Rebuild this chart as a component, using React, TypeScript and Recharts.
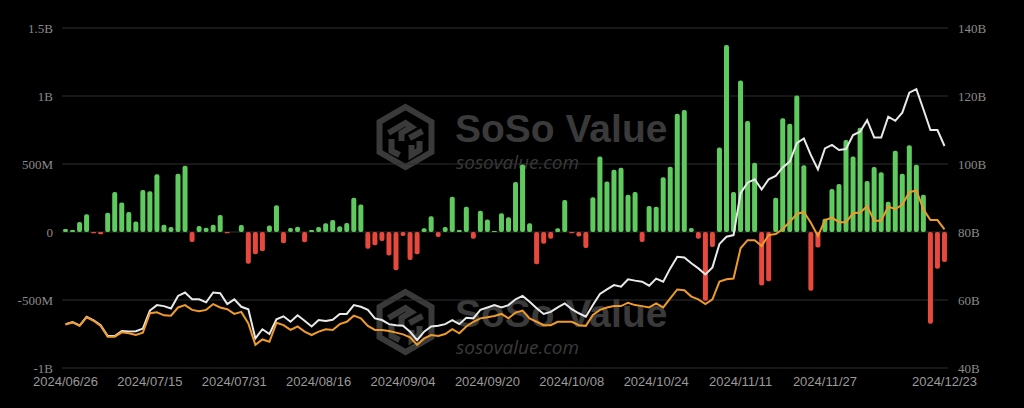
import { ComposedChart, Bar, Line, XAxis, YAxis, CartesianGrid, Cell } from "recharts";

const DATES = [
  "2024/06/26", "2024/06/27", "2024/06/28",
  "2024/07/01", "2024/07/02", "2024/07/03", "2024/07/05", "2024/07/08", "2024/07/09", "2024/07/10", "2024/07/11",
  "2024/07/12", "2024/07/15", "2024/07/16", "2024/07/17", "2024/07/18", "2024/07/19", "2024/07/22", "2024/07/23",
  "2024/07/24", "2024/07/25", "2024/07/26", "2024/07/29", "2024/07/30", "2024/07/31",
  "2024/08/01", "2024/08/02", "2024/08/05", "2024/08/06", "2024/08/07", "2024/08/08", "2024/08/09", "2024/08/12",
  "2024/08/13", "2024/08/14", "2024/08/15", "2024/08/16", "2024/08/19", "2024/08/20", "2024/08/21", "2024/08/22",
  "2024/08/23", "2024/08/26", "2024/08/27", "2024/08/28", "2024/08/29", "2024/08/30",
  "2024/09/03", "2024/09/04", "2024/09/05", "2024/09/06", "2024/09/09", "2024/09/10", "2024/09/11", "2024/09/12",
  "2024/09/13", "2024/09/16", "2024/09/17", "2024/09/18", "2024/09/19", "2024/09/20", "2024/09/23", "2024/09/24",
  "2024/09/25", "2024/09/26", "2024/09/27", "2024/09/30",
  "2024/10/01", "2024/10/02", "2024/10/03", "2024/10/04", "2024/10/07", "2024/10/08", "2024/10/09", "2024/10/10",
  "2024/10/11", "2024/10/14", "2024/10/15", "2024/10/16", "2024/10/17", "2024/10/18", "2024/10/21", "2024/10/22",
  "2024/10/23", "2024/10/24", "2024/10/25", "2024/10/28", "2024/10/29", "2024/10/30", "2024/10/31",
  "2024/11/01", "2024/11/04", "2024/11/05", "2024/11/06", "2024/11/07", "2024/11/08", "2024/11/11", "2024/11/12",
  "2024/11/13", "2024/11/14", "2024/11/15", "2024/11/18", "2024/11/19", "2024/11/20", "2024/11/21", "2024/11/22",
  "2024/11/25", "2024/11/26", "2024/11/27", "2024/11/29",
  "2024/12/02", "2024/12/03", "2024/12/04", "2024/12/05", "2024/12/06", "2024/12/09", "2024/12/10", "2024/12/11",
  "2024/12/12", "2024/12/13", "2024/12/16", "2024/12/17", "2024/12/18", "2024/12/19", "2024/12/20", "2024/12/23",
];

// daily net inflow, millions USD (left axis)
const NET_INFLOW = [
  22, 15, 74, 130, -10, -17, 142, 294, 216, 147, 78, 309, 299, 424, 54, 37, 429, 488, -73, 44,
  32, 54, 125, -10, 0, 51, -233, -164, -142, 47, 196, -83, 29, 39, -76, 15, 37, 64, 88, 42,
  66, 252, 203, -123, -98, -66, -172, -282, -29, -206, -164, 27, 115, -37, 37, 260, 15, 186, -49, 157,
  92, 7, 137, 108, 368, 497, 64, -238, -86, -49, 27, 235, -10, -34, -118, 255, 555, 372, 458, 473,
  274, 294, -73, 191, 186, 402, 480, 870, 897, 29, -49, -505, -110, 622, 1375, 294, 1114, 817, 510, -394,
  -363, 252, 837, 796, 1004, 490, -432, -114, 98, 316, 353, 676, 556, 767, 375, 478, 439, 223, 598, 429,
  637, 495, 274, -674, -270, -221,
];

// total net assets, billions USD (right axis)
const NET_ASSETS = [
  52.9, 53.5, 52.5, 55.1, 54.0, 52.6, 49.4, 49.4, 50.9, 50.7, 50.8, 51.6, 56.9, 58.5, 58.2, 57.5, 61.2, 62.2, 60.2, 60.2,
  59.3, 62.2, 62.0, 58.8, 60.2, 58.0, 57.3, 48.7, 51.4, 50.0, 54.3, 55.2, 53.6, 55.5, 53.9, 52.2, 54.1, 53.8, 54.2, 55.9,
  55.9, 58.5, 58.0, 57.1, 54.6, 54.1, 52.9, 52.6, 52.4, 50.7, 48.2, 50.7, 52.2, 52.4, 52.9, 54.1, 52.9, 54.8, 54.6, 57.1,
  57.8, 58.5, 57.8, 58.5, 60.2, 61.2, 59.5, 57.6, 55.9, 56.5, 57.8, 59.0, 57.3, 56.1, 55.1, 58.5, 61.8, 63.1, 64.4, 63.9,
  66.1, 65.7, 65.4, 64.2, 66.3, 65.4, 69.3, 72.7, 72.5, 70.8, 69.3, 67.5, 69.6, 76.5, 78.6, 79.1, 91.4, 94.5, 95.5, 92.5,
  95.5, 96.5, 99.0, 100.7, 106.1, 107.5, 102.6, 98.4, 104.6, 105.6, 104.1, 104.4, 108.5, 109.5, 112.9, 107.8, 107.8, 113.9, 112.7, 115.1,
  121.0, 122.0, 116.1, 110.0, 110.0, 105.3,
];

// orange line, read against the right axis (billions)
const ORANGE_LINE = [
  52.8, 53.4, 52.4, 54.9, 53.9, 52.4, 49.2, 49.2, 50.5, 50.2, 49.7, 50.4, 56.1, 56.4, 55.5, 55.4, 57.8, 58.5, 57.1, 56.7,
  57.1, 58.8, 57.8, 57.3, 55.9, 56.5, 53.1, 46.8, 48.4, 47.7, 53.3, 52.6, 51.2, 52.2, 50.7, 49.7, 50.7, 51.4, 51.2, 52.9,
  53.6, 55.4, 54.6, 52.4, 51.2, 51.2, 50.9, 50.4, 49.9, 49.0, 46.8, 48.7, 49.7, 49.4, 50.0, 51.4, 50.2, 52.2, 53.6, 54.6,
  54.9, 55.3, 55.9, 54.6, 56.3, 56.9, 54.6, 53.6, 52.6, 52.6, 53.6, 53.6, 53.6, 52.6, 52.4, 55.6, 57.1, 57.8, 58.2, 58.2,
  59.2, 58.5, 58.2, 57.8, 59.0, 57.8, 60.5, 63.1, 62.9, 61.0, 60.2, 58.8, 60.2, 65.4, 66.1, 66.3, 75.2, 77.6, 77.6, 75.9,
  79.1, 79.4, 80.9, 83.0, 85.3, 85.9, 82.7, 78.8, 83.5, 84.2, 82.9, 82.9, 85.5, 85.7, 87.6, 83.3, 83.3, 87.5, 86.7, 88.1,
  91.7, 92.2, 86.7, 83.5, 83.5, 80.8,
];

const X_TICKS = [
  "2024/06/26", "2024/07/15", "2024/07/31", "2024/08/16", "2024/09/04", "2024/09/20",
  "2024/10/08", "2024/10/24", "2024/11/11", "2024/11/27", "2024/12/23",
];
const LEFT_TICKS = [-1000, -500, 0, 500, 1000, 1500];
const RIGHT_TICKS = [40, 60, 80, 100, 120, 140];

const data = DATES.map((date, i) => ({
  date,
  inflow: NET_INFLOW[i],
  assets: NET_ASSETS[i],
  orange: ORANGE_LINE[i],
}));

const fmtLeft = (v: number) => {
  if (v === 0) return "0";
  if (Math.abs(v) >= 1000) return `${v / 1000}B`;
  return `${v}M`;
};

const WM = "#3a3a3a";

function Logo({ cx, cy }: { cx: number; cy: number }) {
  const r = 30;
  const pts = [-90, -30, 30, 90, 150, 210]
    .map((a) => {
      const t = (a * Math.PI) / 180;
      return `${cx + r * Math.cos(t)},${cy + r * Math.sin(t)}`;
    })
    .join(" ");
  return (
    <g stroke={WM} strokeWidth={6} fill="none" strokeLinejoin="miter">
      <polygon points={pts} />
      <polyline points={`${cx - 17},${cy - 4} ${cx},${cy - 14} ${cx + 6},${cy - 10} ${cx - 4},${cy - 4} ${cx - 4},${cy + 4}`} />
      <polyline points={`${cx + 17},${cy - 6} ${cx + 4},${cy + 1}`} />
      <polyline points={`${cx - 14},${cy + 2} ${cx - 14},${cy + 14} ${cx - 6},${cy + 18}`} />
      <polyline points={`${cx + 6},${cy + 8} ${cx + 6},${cy + 18} ${cx + 14},${cy + 13} ${cx + 14},${cy + 4}`} />
    </g>
  );
}

function Watermark({ y }: { y: number }) {
  return (
    <g>
      <Logo cx={405.5} cy={y + 33} />
      <text x={455} y={y + 38} fill={WM} fontFamily="Liberation Sans, Arial, sans-serif" fontWeight={700} fontSize={39}>
        SoSo Value
      </text>
      <text x={456} y={y + 65} fill={WM} fontFamily="Open Sans, sans-serif" fontStyle="italic" fontSize={19}>
        sosovalue.com
      </text>
    </g>
  );
}

export default function App() {
  return (
    <div style={{ position: "absolute", left: 0, top: 0, width: 1024, height: 408, background: "#000", overflow: "hidden" }}>
      <svg width={1024} height={408} style={{ position: "absolute", left: 0, top: 0 }}>
        <Watermark y={104} />
        <Watermark y={289} />
      </svg>
      <div style={{ position: "absolute", left: 0, top: 0 }}>
        <ComposedChart width={1024} height={408} data={data} margin={{ top: 28, right: 0, left: 0, bottom: 10 }} barCategoryGap={0}>
          <CartesianGrid yAxisId="left" vertical={false} stroke="#2e2e2e" strokeWidth={1.2} />
          <XAxis
            dataKey="date"
            ticks={X_TICKS}
            interval={0}
            height={30}
            axisLine={false}
            tickLine={false}
            tickSize={0}
            tickMargin={9}
            tick={{ fill: "#9a9a9a", fontSize: 13, fontFamily: "Liberation Sans, Arial, sans-serif" }}
          />
          <YAxis
            yAxisId="left"
            domain={[-1000, 1500]}
            ticks={LEFT_TICKS}
            width={62}
            axisLine={false}
            tickLine={false}
            tickSize={0}
            tickMargin={9}
            tickFormatter={fmtLeft}
            tick={{ fill: "#8a8a8a", fontSize: 13, fontFamily: "Liberation Serif, Times New Roman, serif" }}
          />
          <YAxis
            yAxisId="right"
            orientation="right"
            domain={[40, 140]}
            ticks={RIGHT_TICKS}
            width={76}
            axisLine={false}
            tickLine={false}
            tickSize={0}
            tickMargin={10}
            tickFormatter={(v: number) => `${v}B`}
            tick={{ fill: "#8a8a8a", fontSize: 13, fontFamily: "Liberation Serif, Times New Roman, serif" }}
          />
          <Bar yAxisId="left" dataKey="inflow" barSize={5} radius={2} isAnimationActive={false}>
            {data.map((d, i) => (
              <Cell key={i} fill={d.inflow >= 0 ? "#5fcb5f" : "#e8493d"} />
            ))}
          </Bar>
          <Line yAxisId="right" type="linear" dataKey="assets" stroke="#e9e9e9" strokeWidth={2} dot={false} isAnimationActive={false} />
          <Line yAxisId="right" type="linear" dataKey="orange" stroke="#ef9a2c" strokeWidth={2} dot={false} isAnimationActive={false} />
        </ComposedChart>
      </div>
    </div>
  );
}
